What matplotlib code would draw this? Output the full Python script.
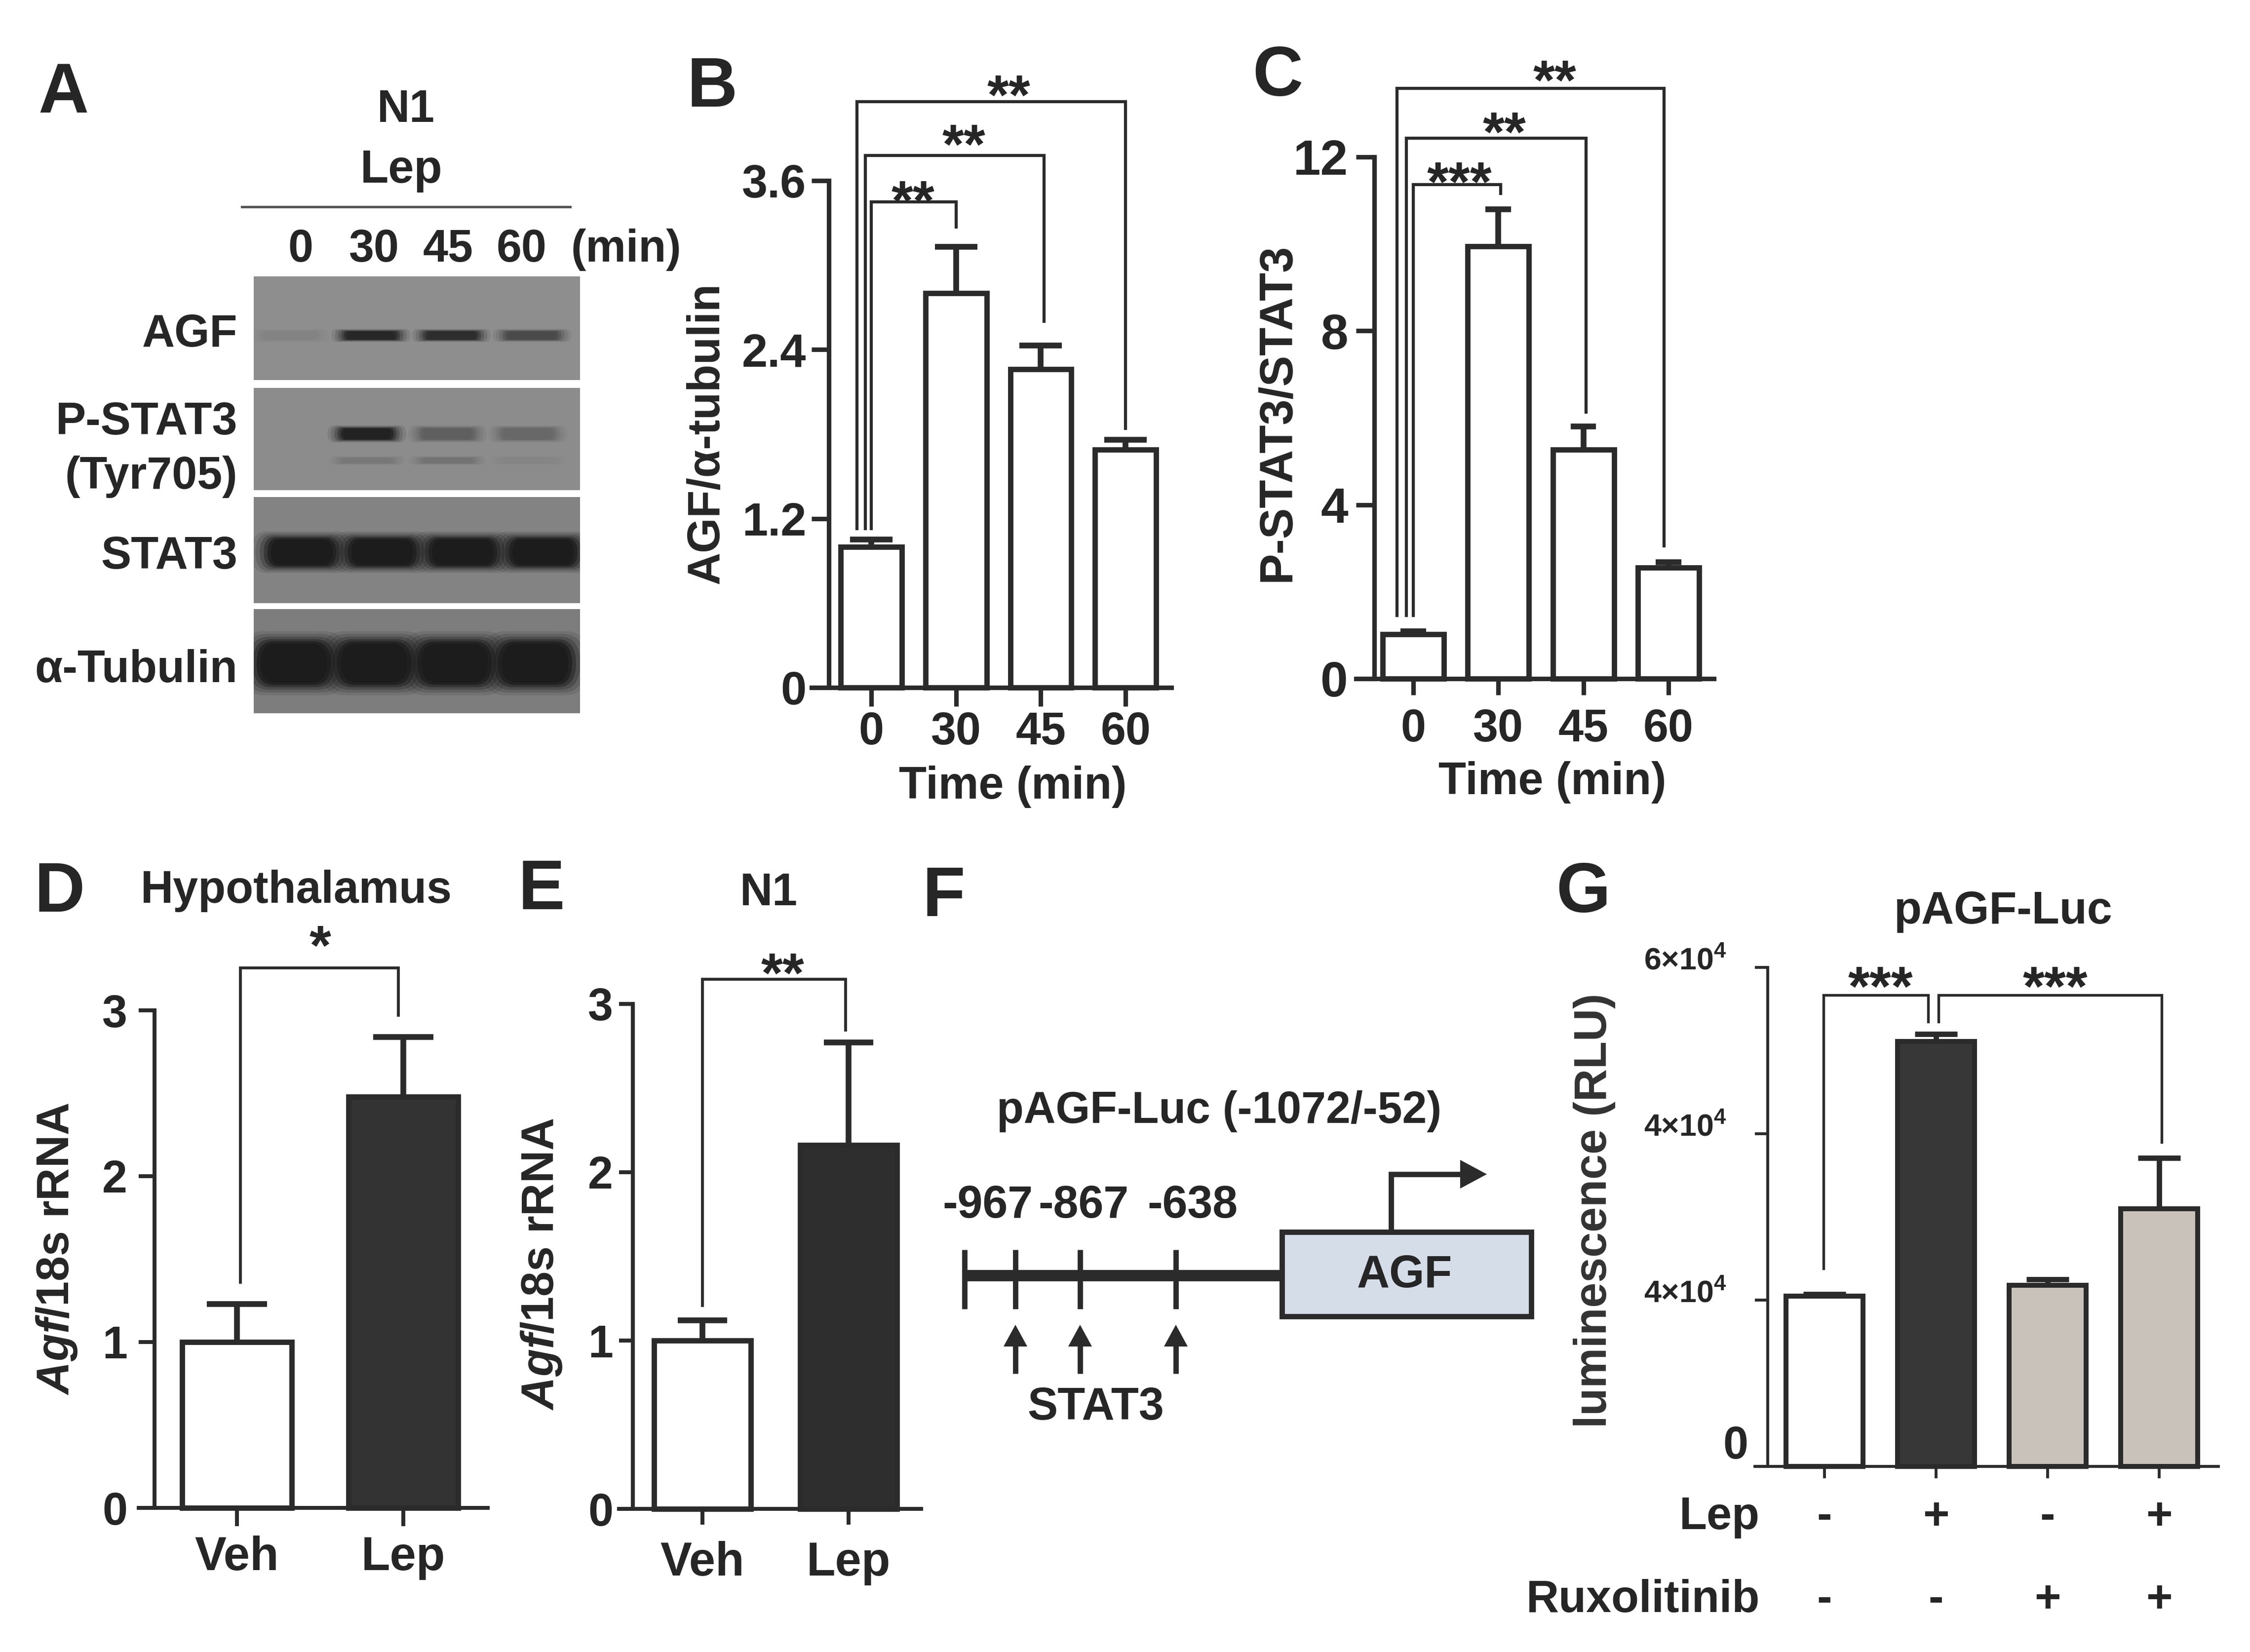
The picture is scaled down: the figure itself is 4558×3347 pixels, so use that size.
import matplotlib
matplotlib.use('Agg')
import matplotlib.pyplot as plt
import matplotlib.transforms as mtransforms
from matplotlib.patches import FancyBboxPatch, Rectangle, Polygon
from matplotlib.colors import to_rgb

# ---- data ----
time_labels = ['0', '30', '45', '60']

# A: western blot band strength per lane (0 = none, 1 = saturated)
agf_band = [0.10, 0.90, 0.85, 0.60]
pstat3_band = [0.0, 0.95, 0.40, 0.32]
pstat3_lower_band = [0.0, 0.18, 0.22, 0.06]
stat3_band = [1.0, 1.0, 1.0, 1.0]
tubulin_band = [1.0, 1.0, 1.0, 1.0]

# B: AGF / alpha-tubulin
agf_ratio = [1.0, 2.80, 2.26, 1.69]
agf_err = [0.05, 0.33, 0.17, 0.07]
agf_ticks = [0, 1.2, 2.4, 3.6]
agf_ticklabels = ['0', '1.2', '2.4', '3.6']

# C: P-STAT3 / STAT3
pstat3_ratio = [1.02, 9.94, 5.27, 2.56]
pstat3_err = [0.07, 0.86, 0.53, 0.12]
pstat3_ticks = [0, 4, 8, 12]

# D / E: Agf mRNA
groups = ['Veh', 'Lep']
hypo_mrna = [1.0, 2.48]
hypo_err = [0.23, 0.36]
n1_mrna = [1.0, 2.16]
n1_err = [0.12, 0.61]
mrna_ticks = [0, 1, 2, 3]

# F: promoter sites
stat3_sites = ['-967', '-867', '-638']

# G: luciferase
luc_lep = ['-', '+', '-', '+']
luc_rux = ['-', '-', '+', '+']
luc_vals = [2.05, 5.11, 2.18, 3.10]
luc_err = [0.02, 0.09, 0.07, 0.61]
luc_ticks = [0, 2, 4, 6]
luc_ticklabels = ['0', r'4$\times$10$^{4}$', r'4$\times$10$^{4}$',
                  r'6$\times$10$^{4}$']
luc_colors = ['white', '#373737', '#c9c2bb', '#c9c2bb']

# significance brackets: (i, j, y_bar, y_leg_i, y_leg_j, dx_i, dx_j, label, star_x, star_y)
agf_sig = [(0, 1, 3.45, 1.13, 3.27, 0.0, 0.0, '**', 0.49, 3.55),
           (0, 2, 3.78, 1.13, 2.60, -0.07, 0.04, '**', 1.09, 3.95),
           (0, 3, 4.16, 1.13, 1.84, -0.17, 0.0, '**', 1.62, 4.30)]
pstat3_sig = [(0, 1, 11.36, 1.45, 11.16, 0.0, 0.03, '***', 0.54, 11.73),
              (0, 2, 12.43, 1.45, 6.13, -0.08, 0.03, '**', 1.07, 12.87),
              (0, 3, 13.58, 1.45, 3.05, -0.19, -0.05, '**', 1.66, 14.07)]
hypo_sig = [(0, 1, 3.256, 1.36, 2.97, 0.02, -0.03, '*', 0.5, 3.47)]
n1_sig = [(0, 1, 3.147, 1.207, 2.846, 0.0, -0.02, '**', 0.55, 3.26)]
luc_sig = [(0, 1, 5.67, 2.38, 5.35, -0.01, -0.07, '***', 0.50, 5.93),
           (1, 3, 5.67, 5.35, 3.90, 0.02, 0.02, '***', 2.07, 5.93)]

# ---- style ----
plt.rcParams['font.family'] = ['Liberation Sans', 'DejaVu Sans']
plt.rcParams['font.weight'] = 'bold'
plt.rcParams['mathtext.fontset'] = 'custom'
plt.rcParams['mathtext.it'] = 'Liberation Sans:italic:bold'
plt.rcParams['mathtext.rm'] = 'Liberation Sans:bold'
plt.rcParams['mathtext.default'] = 'rm'
TXT = '#262626'
LN = '#2b2b2b'
plt.rcParams['text.color'] = TXT
plt.rcParams['xtick.color'] = LN
plt.rcParams['ytick.color'] = LN
plt.rcParams['xtick.labelcolor'] = TXT
plt.rcParams['ytick.labelcolor'] = TXT

FS = 22  # main text size

W, H = 4558, 3347
fig = plt.figure(figsize=(W / 300, H / 300), dpi=300)


def rect(x0, x1, ytop, ybot):
    return [x0 / W, 1 - ybot / H, (x1 - x0) / W, (ybot - ytop) / H]


def T(x, y, s, size, **kw):
    kw.setdefault('ha', 'center')
    kw.setdefault('va', 'center')
    return fig.text(x / W, 1 - y / H, s, fontsize=size, **kw)


def bar_axes(g):
    ax = fig.add_axes(rect(g['xl'], g['xr'], g['ytop'], g['y0']))
    ax.set_xlim((g['xl'] - g['c0']) / g['dx'], (g['xr'] - g['c0']) / g['dx'])
    ax.set_ylim(0, g['ymax'])
    ax.patch.set_alpha(0)
    for s in ['top', 'right']:
        ax.spines[s].set_visible(False)
    ax.spines['left'].set_position(('data', (g['ya'] - g['c0']) / g['dx']))
    for s in ['left', 'bottom']:
        ax.spines[s].set_linewidth(g['spine'])
        ax.spines[s].set_color(LN)
    return ax


def draw_bars(ax, vals, errs, width, colors, lw, cap, elw):
    x = list(range(len(vals)))
    ax.bar(x, vals, width=width, color=colors, edgecolor=LN, linewidth=lw,
           zorder=3, clip_on=False)
    tops = [v + e for v, e in zip(vals, errs)]
    ax.vlines(x, vals, tops, color=LN, linewidth=elw, zorder=2, clip_on=False)
    ax.hlines(tops, [i - cap for i in x], [i + cap for i in x], color=LN,
              linewidth=elw, zorder=2, clip_on=False)


def draw_sig(ax, sig, lw, fs):
    for i, j, yb, yi, yj, dxi, dxj, lab, sx, sy in sig:
        ax.plot([i + dxi, i + dxi, j + dxj, j + dxj], [yi, yb, yb, yj],
                color=LN, lw=lw, clip_on=False, solid_joinstyle='miter')
        ax.annotate(lab, xy=(sx, sy), xytext=(0, -0.575 * fs),
                    textcoords='offset points', ha='center', va='baseline',
                    fontsize=fs, annotation_clip=False)


# ---- panel letters ----
for lab, x, y in [('A', 129, 191), ('B', 1443, 179), ('C', 2588, 157),
                  ('D', 121, 1810), ('E', 1097, 1805), ('F', 1912, 1819),
                  ('G', 3207, 1811)]:
    T(x, y, lab, 34)

# ---- A: western blot ----
T(822, 247, 'N1', FS, va='baseline')
T(813, 370, 'Lep', FS + 0.5, va='baseline')
fig.add_artist(plt.Line2D([490 / W, 1155 / W], [1 - 419 / H, 1 - 419 / H],
                          color='#555555', lw=1.2))
for i, t in enumerate(time_labels):
    T(609 + 149.3 * i, 530, t, FS, va='baseline')
T(1268, 530, '(min)', FS, va='baseline')

strips = [  # (name lines, label baselines, top, bottom, bg, lane shift)
    (['AGF'], [702], 560, 770, '#8e8e8e', -0.04),
    (['P-STAT3', '(Tyr705)'], [880, 990], 786, 993, '#8c8c8c', -0.09),
    (['STAT3'], [1152], 1007, 1222, '#838383', 0.10),
    (['α-Tubulin'], [1382], 1234, 1445, '#7d7d7d', 0.0),
]
band_rows = [
    [(agf_band, 0.43, 0.09, 0.70)],
    [(pstat3_band, 0.55, 0.12, 0.70), (pstat3_lower_band, 0.29, 0.06, 0.68)],
    [(stat3_band, 0.48, 0.28, 0.90)],
    [(tubulin_band, 0.48, 0.44, 0.97)],
]
dark = to_rgb('#1c1c1c')
layers = [(1.4, 0.12), (1.28, 0.18), (1.16, 0.28), (1.05, 0.45), (0.95, 0.7),
          (0.85, 1.0)]
for (names, ys, top, bot, bg, shift), rows in zip(strips, band_rows):
    ax = fig.add_axes(rect(514, 1175, top, bot))
    ax.set_xlim((514 - 595) / 163, (1175 - 595) / 163)
    ax.set_ylim(0, 1)
    ax.set_facecolor(bg)
    ax.set_xticks([])
    ax.set_yticks([])
    for s in ax.spines.values():
        s.set_visible(False)
    bgc = to_rgb(bg)
    for vals, yc, h, w in rows:
        for i, v in enumerate(vals):
            if v <= 0:
                continue
            col = tuple(b + (d - b) * v for b, d in zip(bgc, dark))
            for sc, al in layers:
                ww, hh = w * sc, h * sc
                ax.add_patch(FancyBboxPatch(
                    (i + shift - ww / 2, yc - hh / 2), ww, hh,
                    boxstyle='round,pad=0,rounding_size=%f' % (hh / 2),
                    fc=col, ec='none', alpha=al))
    for n, y in zip(names, ys):
        T(481, y, n, FS, ha='right', va='baseline')

# ---- B ----
gB = dict(xl=1644, xr=2373, ya=1679, y0=1393, ytop=366, c0=1765, dx=171.7,
          ymax=3.6, spine=2.2)
ax = bar_axes(gB)
draw_bars(ax, agf_ratio, agf_err, 0.72, 'white', 2.6, 0.25, 2.8)
draw_sig(ax, agf_sig, 1.5, 27)
ax.set_yticks(agf_ticks, agf_ticklabels)
ax.set_xticks(range(4), time_labels)
ax.tick_params(axis='y', length=8.4, width=2.2, pad=2.6, labelsize=22.5)
ax.tick_params(axis='x', length=9.1, width=2.2, pad=2.4, labelsize=FS)
T(1432, 878, 'AGF/α-tubulin', FS, rotation=90)
T(2052, 1594, 'Time (min)', FS)

# ---- C ----
gC = dict(xl=2747, xr=3472, ya=2784, y0=1375, ytop=318, c0=2863, dx=172.3,
          ymax=12, spine=2.2)
ax = bar_axes(gC)
draw_bars(ax, pstat3_ratio, pstat3_err, 0.72, 'white', 2.6, 0.15, 2.8)
draw_sig(ax, pstat3_sig, 1.5, 27)
ax.set_yticks(pstat3_ticks, [str(t) for t in pstat3_ticks])
ax.set_xticks(range(4), time_labels)
ax.tick_params(axis='y', length=8.9, width=2.2, pad=3.8, labelsize=24)
ax.tick_params(axis='x', length=8.0, width=2.2, pad=6.5, labelsize=FS)
T(2588, 835, 'P-STAT3/STAT3', 22.5, rotation=90)
T(3145, 1585, 'Time (min)', FS)

# ---- D ----
gD = dict(xl=281, xr=988, ya=313, y0=3055, ytop=2047, c0=480, dx=337,
          ymax=3, spine=1.9)
ax = bar_axes(gD)
draw_bars(ax, hypo_mrna, hypo_err, 0.66, ['white', '#333333'], 2.6, 0.18, 2.8)
draw_sig(ax, hypo_sig, 1.4, 27)
ax.set_yticks(mrna_ticks, [str(t) for t in mrna_ticks])
ax.set_xticks(range(2), groups)
ax.tick_params(axis='y', length=7.7, width=1.9, pad=5.5, labelsize=FS)
ax.tick_params(axis='x', length=8.9, width=1.9, pad=4.6, labelsize=23)
T(600, 1805, 'Hypothalamus', FS)
T(115, 2530, r'$\mathit{Agf/}$18s rRNA', FS, rotation=90)

# ---- E ----
gE = dict(xl=1254, xr=1866, ya=1282, y0=3057, ytop=2034, c0=1423, dx=296,
          ymax=3, spine=1.9)
ax = bar_axes(gE)
draw_bars(ax, n1_mrna, n1_err, 0.665, ['white', '#2e2e2e'], 2.6, 0.17, 2.8)
draw_sig(ax, n1_sig, 1.4, 27)
ax.set_yticks(mrna_ticks, [str(t) for t in mrna_ticks])
ax.set_xticks(range(2), groups)
ax.tick_params(axis='y', length=6.7, width=1.9, pad=2.9, labelsize=FS)
ax.tick_params(axis='x', length=7.7, width=1.9, pad=7.9, labelsize=23)
T(1557, 1810, 'N1', FS)
T(1097, 2561, r'$\mathit{Agf/}$18s rRNA', FS, rotation=90)

# ---- G ----
gG = dict(xl=3555, xr=4494, ya=3581, y0=2971, ytop=1960, c0=3696, dx=226,
          ymax=6, spine=1.4)
ax = bar_axes(gG)
draw_bars(ax, luc_vals, luc_err, 0.686, luc_colors, 2.4, 0.19, 2.6)
draw_sig(ax, luc_sig, 1.3, 27)
ax.set_yticks(luc_ticks, [''] * 4)
ax.set_xticks(range(4), [''] * 4)
ax.tick_params(axis='y', length=6.2, width=1.4)
ax.tick_params(axis='x', length=5.8, width=1.4)
spx = (gG['ya'] - gG['c0']) / gG['dx']
for v, lab in zip(luc_ticks, luc_ticklabels):
    if lab == '0':
        ax.annotate(lab, xy=(spx, v), xytext=(-9.6, 9.6),
                    textcoords='offset points', ha='right', va='center',
                    fontsize=FS, annotation_clip=False)
    else:
        ax.annotate(lab, xy=(spx, v), xytext=(-20, 3),
                    textcoords='offset points', ha='right', va='center',
                    fontsize=15, annotation_clip=False)
tr = mtransforms.blended_transform_factory(ax.transData, fig.transFigure)
for i, (a, b) in enumerate(zip(luc_lep, luc_rux)):
    fig.text(i, 1 - 3074 / H, a, transform=tr, ha='center', va='center',
             fontsize=FS)
    fig.text(i, 1 - 3242 / H, b, transform=tr, ha='center', va='center',
             fontsize=FS)
T(3565, 3074, 'Lep', FS, ha='right')
T(3565, 3242, 'Ruxolitinib', FS, ha='right')
T(4058, 1847, 'pAGF-Luc', FS)
T(3230, 2453, 'luminescence (RLU)', FS, rotation=90, color='#333333')

# ---- F: promoter schematic (pixel space) ----
axf = fig.add_axes([0, 0, 1, 1])
axf.set_xlim(0, W)
axf.set_ylim(H, 0)
axf.axis('off')
site_x = [2057, 2188, 2382]
label_x = [2001, 2195, 2416]
axf.plot([1954, 2597], [2584, 2584], color=LN, lw=5.5, solid_capstyle='butt')
for x in [1954] + site_x:
    axf.plot([x, x], [2532, 2652], color=LN, lw=2.6, solid_capstyle='butt')
axf.add_patch(Rectangle((2597, 2496), 505, 171, fc='#d5dde8', ec=LN, lw=2.6))
axf.plot([2818, 2818, 2965], [2496, 2379, 2379], color=LN, lw=2.6,
         solid_joinstyle='miter')
axf.add_patch(Polygon([[2958, 2350], [2958, 2408], [3012, 2379]], closed=True,
                      fc=LN, ec='none'))
for x in site_x:
    axf.plot([x, x], [2783, 2720], color=LN, lw=2.6, solid_capstyle='butt')
    axf.add_patch(Polygon([[x - 24, 2728], [x + 24, 2728], [x, 2684]],
                          closed=True, fc=LN, ec='none'))
for x, lab in zip(label_x, stat3_sites):
    T(x, 2443, lab, FS, family=['Liberation Sans Narrow', 'Liberation Sans'])
T(2470, 2251, 'pAGF-Luc (-1072/-52)', 21.5)
T(2845, 2584, 'AGF', FS)
T(2220, 2852, 'STAT3', FS)

fig.savefig('out.png', dpi=300, facecolor='white')
